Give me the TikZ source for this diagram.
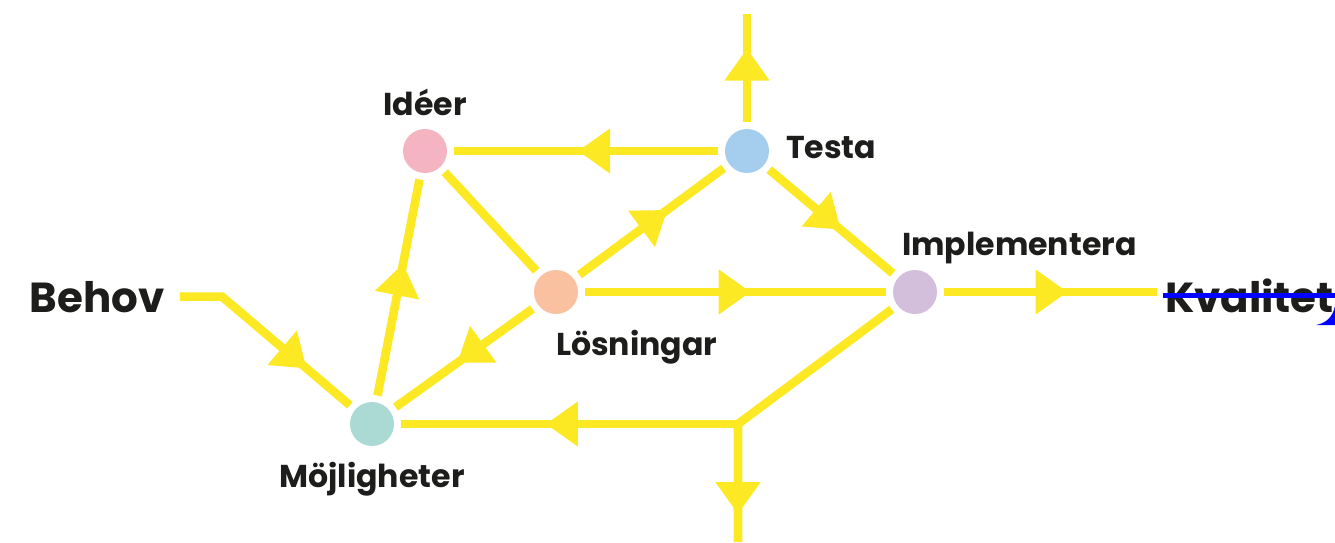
\documentclass[tikz,border=0pt]{standalone}
\usepackage{fontspec}
\setmainfont{Poppins}
\usetikzlibrary{arrows.meta}
\usetikzlibrary{decorations.markings}
\usetikzlibrary{positioning}
\definecolor{ylw}{HTML}{FCE823}
\definecolor{ink}{HTML}{1D1D1B}
\definecolor{rosa}{HTML}{F5B4C1}
\definecolor{himmel}{HTML}{A5CDEE}
\definecolor{persika}{HTML}{F9C1A0}
\definecolor{lila}{HTML}{D3BEDC}
\definecolor{mint}{HTML}{ABD9D3}

\begin{document}
\begin{tikzpicture}[x=0.5pt, y=-0.5pt,
stage/.style={circle, fill=#1, minimum size=22pt, inner sep=0pt, outer sep=3.5pt},
lbl/.style={font=\bfseries\fontsize{15.8}{18}\selectfont, text=ink, inner sep=0pt, outer sep=0pt},
endlbl/.style={font=\bfseries\fontsize{21}{24}\selectfont, text=ink, inner sep=0pt},
link/.style={draw=ylw, line width=4.3pt},
flow/.style={link, postaction={decorate}, decoration={markings, mark=at position #1 with {\arrow[ylw]{Triangle[width=21.5pt, length=16pt]}}}},
]
\useasboundingbox (0,0) rectangle (1335,542);
\node[stage=rosa, label={[lbl, anchor=base, label distance=3.5pt]above:Idéer}](ideer) at (425,151) {};
\node[stage=himmel, label={[lbl, anchor=base west, label distance=5pt, yshift=-3.5pt]right:Testa}](testa) at (747,151) {};
\node[stage=persika, label={[lbl, anchor=base west, label distance=17pt]below:Lösningar}](losn) at (556,292) {};
\node[stage=lila, label={[lbl, anchor=base west, label distance=4pt, xshift=-6.5pt]above:Implementera}](impl) at (915,292) {};
\node[stage=mint, label={[lbl, anchor=base, label distance=17pt]below:Möjligheter}](mojl) at (372,424) {};
\node[endlbl, anchor=base west, outer sep=7.5pt](behov) at (15,312) {Behov};
\node[endlbl, anchor=base west, outer sep=4pt](kval) at (1157,312) {Kvalitet};
\coordinate (bend) at (222,296);
\coordinate (up) at (747,14);
\coordinate (junc) at (738,424);
\coordinate (down) at (738,542);
\draw[flow=0.73] (behov.east) -- (behov.east -| bend) -- (mojl);
\draw[flow=0.61] (mojl) -- (ideer);
\draw[link] (ideer) -- (losn);
\draw[flow=0.61] (losn) -- (testa);
\draw[flow=0.53] (testa) -- (ideer);
\draw[flow=0.68] (testa) -- (up);
\draw[flow=0.58] (testa) -- (impl);
\draw[flow=0.55] (losn.east) -- (impl.west);
\draw[flow=0.55] (losn) -- (mojl);
\draw[flow=0.58] (impl.east) -- (impl.east -| kval.west);
\draw[flow=0.91] (impl) -- (junc) -- (down);
\draw[flow=0.57] (junc) -- (mojl);
% blue strike over Kvalitet
\draw[blue, line width=2.5pt] ([xshift=3pt]kval.west) -- (kval.west -| 1335,0);
\fill[blue] (1316,325) .. controls (1327,323) and (1333,316) .. (1335,306) -- (1335,325) -- cycle;
\end{tikzpicture}
\end{document}
